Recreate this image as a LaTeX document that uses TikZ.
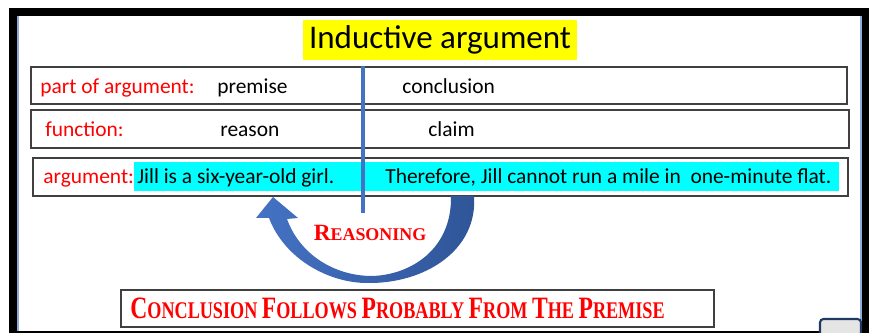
\documentclass[tikz,border=0pt]{standalone}
\usepackage{fontspec}
\setmainfont{Carlito}
\newfontfamily\decofont{Liberation Serif}
\usetikzlibrary{positioning}
\definecolor{argred}{HTML}{FF0000}
\definecolor{argcyan}{HTML}{00FFFF}
\definecolor{argyellow}{HTML}{FFFF00}
\definecolor{argblue}{HTML}{4472C4}
\definecolor{argdark}{HTML}{2F5597}
\definecolor{argframe}{HTML}{8FAADC}
\definecolor{argnavy}{HTML}{1F3864}
\newcommand{\initcap}[1]{\scalebox{1.3}{#1}}

\begin{document}
\begin{tikzpicture}[x=0.02cm, y=0.02cm,
  every node/.style={font=\fontsize{12.2pt}{14pt}\selectfont},
  rowbox/.style={draw=black!75, line width=0.8pt, inner sep=0pt},
  celltext/.style={anchor=base west, inner sep=0pt},
  rowlabel/.style={celltext, text=argred}]
  \useasboundingbox (0,0) rectangle (872,333);

  % Frame
  \fill[black] (9,0) rectangle (869,325);
  \fill[white] (17,2) rectangle (862,317);
  \draw[argframe, line width=1.1pt] (18,2) -- (18,317);
  \draw[argframe, line width=1.1pt] (861,2) -- (861,317);

  % Title
  \node[fill=argyellow, minimum width=5.4cm, minimum height=0.8cm,
    font=\fontsize{18.8pt}{20pt}\selectfont] (title) at (440,293) {Inductive argument};

  % Rows
  \node[rowbox, minimum width=16.32cm, minimum height=0.74cm] (row1) at (439,247.5) {};
  \node[rowbox, minimum width=16.36cm, minimum height=0.76cm] (row2) at (440,204) {};
  \node[rowbox, minimum width=16.3cm, minimum height=0.76cm] (row3) at (440.5,156) {};
  \node[fill=argcyan, minimum width=14.1cm, minimum height=0.58cm, inner sep=0pt] (hl) at (486.5,156.5) {};

  \node[rowlabel] (partlbl) at (40,239) {part of argument:};
  \node[celltext] (premise) at (217,239) {premise};
  \node[celltext] (conclusion) at (402,239) {conclusion};

  \node[rowlabel] (funclbl) at (45,196) {function:};
  \node[celltext] (reason) at (220,196) {reason};
  \node[celltext] (claim) at (428,196) {claim};

  \node[rowlabel] (arglbl) at (43,149) {argument:};
  \node[celltext] (jill) at (137,149) {Jill is a six-year-old girl.};
  \node[celltext] (therefore) at (385,149) {Therefore, Jill cannot run a mile in\ \ one-minute flat.};

  % Divider
  \coordinate (divbot) at (363,120);
  \draw[argblue, line width=2.4pt] (row1.north -| divbot) -- (divbot);

  % Curved arrow
  \shade[left color=argblue, right color=argdark]
    (273,136) -- (298,115) -- (287,114)
    .. controls (300,78) and (335,57) .. (372,57)
    .. controls (410,58) and (452,83) .. (451,137)
    -- (474,137)
    .. controls (478,83) and (425,49) .. (367,50)
    .. controls (330,50) and (285,73) .. (269,115)
    -- (256,115) -- cycle;

  \node[text=argred, font=\decofont\bfseries\fontsize{10.2pt}{12pt}\selectfont] (reasoning) at (370,100) {\initcap{R}EASONING};

  % Result
  \node[rowbox, minimum width=11.86cm, minimum height=0.74cm] (result) at (417.5,24.5) {};
  \node[anchor=west, inner sep=0pt, text=argred,
    font=\decofont\bfseries\fontsize{13.6pt}{15pt}\selectfont] (resulttext) at (130,25)
    {\scalebox{0.76}[1]{\initcap{C}ONCLUSION \initcap{F}OLLOWS \initcap{P}ROBABLY \initcap{F}ROM \initcap{T}HE \initcap{P}REMISE}};

  % Corner box
  \draw[argnavy, line width=1.2pt, fill=black!10, rounded corners=2pt] (820,-6) rectangle (861,14);
\end{tikzpicture}
\end{document}
